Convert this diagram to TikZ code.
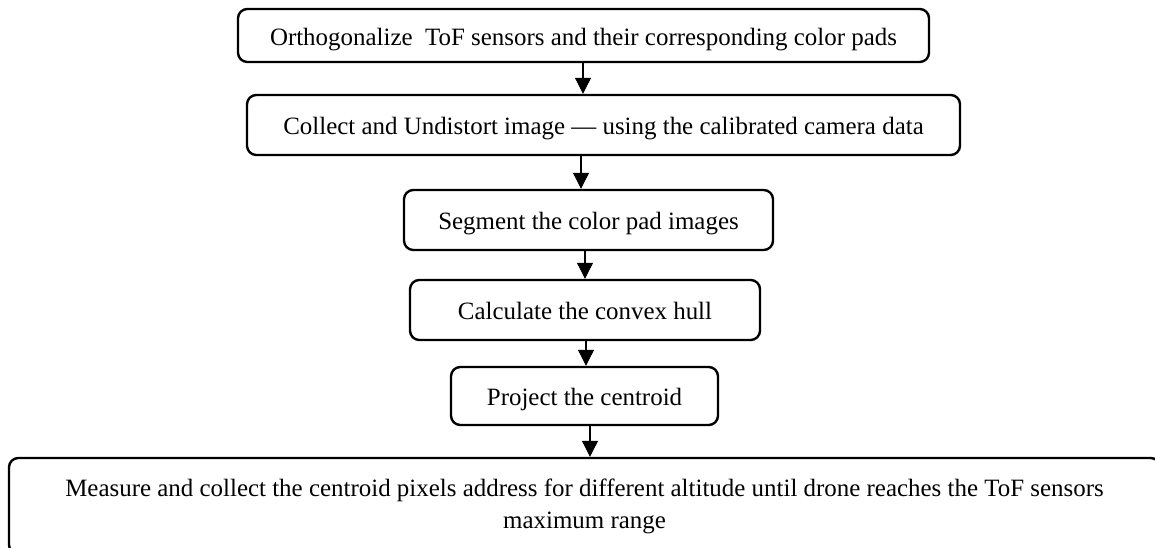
\documentclass[tikz,border=0pt]{standalone}
\usepackage{fontspec}
\setmainfont{Liberation Serif}
\usetikzlibrary{arrows.meta}
\begin{document}
\begin{tikzpicture}[x=0.75pt,y=-0.75pt,
  stepbox/.style={draw=black,line width=1.8pt,rounded corners=7pt,inner sep=0pt,
    align=center,font=\fontsize{18.7}{24}\selectfont,fill=white},
  oneline/.style={text height=19pt,text depth=4pt},
  flow/.style={-{Triangle[width=12pt,length=12pt]},line width=0.8pt}]
\useasboundingbox (0,0) rectangle (1155,548);
\clip (0,0) rectangle (1155,548);
\node[stepbox,oneline,minimum width=518.25pt,minimum height=39.75pt] (b1) at (583.5,35.5)
  {Orthogonalize\ \ ToF sensors and their corresponding color pads};
\node[stepbox,oneline,minimum width=534.75pt,minimum height=45pt] (b2) at (603.5,125)
  {Collect and Undistort image --- using the calibrated camera data};
\node[stepbox,oneline,minimum width=276.75pt,minimum height=45pt] (b3) at (588.5,220)
  {Segment the color pad images};
\node[stepbox,oneline,minimum width=262.5pt,minimum height=45pt] (b4) at (585,310)
  {Calculate the convex hull};
\node[stepbox,oneline,minimum width=200.25pt,minimum height=43.5pt] (b5) at (584.5,396)
  {Project the centroid};
\node[stepbox,minimum width=863.25pt,minimum height=72pt] (b6) at (584.5,506)
  {Measure and collect the centroid pixels address for different altitude until drone reaches the ToF sensors\\ maximum range};
\coordinate (x1) at (583,0);
\coordinate (x2) at (581,0);
\coordinate (x3) at (585,0);
\coordinate (x4) at (586,0);
\coordinate (x5) at (590,0);
\draw[flow] (b1.south -| x1) -- (b2.north -| x1);
\draw[flow] (b2.south -| x2) -- (b3.north -| x2);
\draw[flow] (b3.south -| x3) -- (b4.north -| x3);
\draw[flow] (b4.south -| x4) -- (b5.north -| x4);
\draw[flow] (b5.south -| x5) -- (b6.north -| x5);
\end{tikzpicture}
\end{document}
